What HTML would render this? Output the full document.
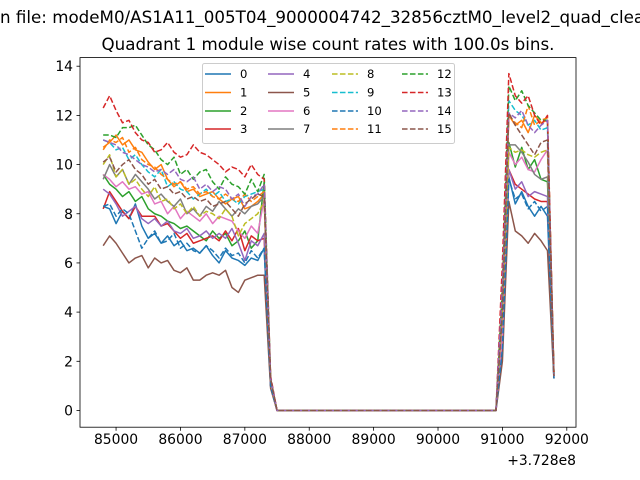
<!DOCTYPE html>
<html><head><meta charset="utf-8"><style>
html,body{margin:0;padding:0;background:#fff;}
svg{display:block;font-family:"DejaVu Sans","Liberation Sans",sans-serif;}
</style></head><body>
<svg id="chart" width="640" height="480" viewBox="0 0 640 480">
<rect x="0" y="0" width="640" height="480" fill="#fff"/>
<text x="0" y="23" font-size="16.7">n file: modeM0/AS1A11_005T04_9000004742_32856cztM0_level2_quad_clean</text>
<text x="328" y="50" font-size="16.7" text-anchor="middle">Quadrant 1 module wise count rates with 100.0s bins.</text>
<g id="plot"></g>
</svg>
<script>
const binStart = 84800;
const binSize = 100;
const gapZeros = [0,0,0,0,0,0,0,0,0,0,0,0,0,0,0,0,0,0,0,0,0,0,0,0,0,0,0,0,0,0,0,0,0,0,0];
const s0pre=[8.3,8.2,7.6,8.1,7.8,8.4,7.5,7.0,7.2,6.8,7.1,6.7,6.9,6.5,6.6,6.4,6.7,6.3,6.0,6.5,6.2,6.1,5.9,6.2,6.1,6.6,1.0];
const s0post=[2.5,9.5,8.4,8.9,8.3,7.9,8.3,7.9,1.3];
const s1pre=[10.7,10.9,11.2,10.8,11.0,10.6,10.5,10.1,9.8,10.0,9.4,9.1,9.3,8.9,9.0,8.7,8.8,8.9,8.6,8.4,8.6,8.7,8.2,8.3,8.5,8.8,1.2];
const s1post=[3.5,12.0,11.6,11.8,11.3,12.0,11.7,11.8,1.5];
const s2pre=[9.6,9.2,9.0,8.7,8.9,8.5,8.7,8.2,8.0,7.9,7.7,7.6,7.4,7.5,7.3,7.1,6.9,7.3,7.0,7.2,6.7,6.9,7.3,6.6,6.9,9.3,1.1];
const s2post=[3,10.9,9.9,10.7,9.8,10.2,9.4,9.3,1.4];
const s3pre=[8.2,8.9,8.5,8.1,7.8,8.3,7.9,7.9,7.9,7.5,7.6,7.3,7.0,7.2,6.8,6.9,7.0,7.1,6.9,7.3,6.9,7.4,6.5,7.1,6.9,7.0,1.0];
const s3post=[4,9.8,9.2,9.0,8.8,8.6,8.5,8.5,1.4];
const s4pre=[9.0,8.8,8.4,7.9,8.1,8.3,7.8,7.6,7.8,7.5,7.7,7.3,7.2,7.4,7.0,7.1,7.3,7.0,7.2,7.0,7.4,6.8,6.1,6.9,6.7,7.2,1.0];
const s4post=[4,9.8,9.0,9.3,8.7,8.9,8.8,8.7,1.4];
const s5pre=[6.7,7.1,6.8,6.4,6.0,6.2,6.3,5.8,6.2,6.0,6.1,5.7,5.6,5.8,5.3,5.3,5.5,5.6,5.5,5.7,5.0,4.8,5.3,5.4,5.5,5.5,0.9];
const s5post=[2,8.5,7.3,7.1,6.8,7.2,6.9,6.5,1.3];
const s6pre=[9.6,9.4,9.1,9.3,9.0,9.1,8.8,8.9,8.4,8.5,8.0,8.3,7.8,8.1,7.9,7.7,8.0,7.6,7.9,7.8,7.7,7.3,7.0,7.5,7.2,8.6,1.1];
const s6post=[3,10.5,10.0,10.3,9.8,9.7,10.2,10.6,1.5];
const s7pre=[9.4,10.0,9.5,9.8,9.2,9.6,9.3,9.0,8.6,8.8,8.5,8.3,8.6,8.0,8.2,7.9,8.3,8.1,8.5,8.2,7.9,8.2,8.0,8.3,8.4,8.7,1.2];
const s7post=[4,10.8,10.8,10.5,10.1,9.6,9.4,9.5,1.5];
const s8pre=[10.0,10.4,9.5,9.8,9.2,9.4,9.0,8.7,9.1,8.5,8.6,8.2,8.4,8.0,8.3,7.9,8.1,8.0,7.8,8.2,7.9,7.1,7.6,7.8,8.0,8.5,1.2];
const s8post=[4,10.7,10.5,10.6,10.4,10.3,10.5,10.6,1.5];
const s9pre=[11.0,10.9,10.6,10.7,10.2,10.4,10.0,9.7,9.5,9.8,9.1,9.3,9.0,8.9,8.6,8.8,9.0,8.7,8.9,8.5,8.6,8.4,8.7,8.8,8.9,9.0,1.3];
const s9post=[5,12.6,12.2,12.0,11.6,11.8,11.4,11.5,1.5];
const s10pre=[8.3,8.4,7.9,8.2,8.0,7.3,6.6,7.0,7.3,6.8,6.9,7.2,6.6,6.8,6.5,6.4,6.7,6.5,6.2,6.6,6.3,6.4,6.0,6.5,6.2,6.6,1.0];
const s10post=[2.5,9.4,8.6,8.8,8.2,8.5,8.1,8.3,1.3];
const s11pre=[10.6,11.0,10.9,11.1,10.5,10.7,10.2,10.0,9.9,9.6,9.4,9.2,9.3,9.0,9.1,8.8,8.9,8.7,8.6,8.8,8.6,8.5,8.8,8.5,8.7,8.9,1.3];
const s11post=[5,12.0,11.7,11.5,12.4,11.6,11.8,11.9,1.5];
const s12pre=[11.2,11.2,11.1,11.5,11.5,11.6,11.2,10.8,10.6,10.2,10.0,10.3,9.6,9.8,9.4,9.7,9.8,9.3,9.0,9.5,9.2,9.1,8.8,9.4,8.9,9.6,1.3];
const s12post=[5,13.2,12.6,13.0,12.4,12.1,11.8,11.8,1.5];
const s13pre=[12.3,12.8,12.2,11.7,11.8,11.3,11.0,10.9,10.5,10.6,10.9,10.5,10.3,10.4,10.8,10.5,10.4,10.2,10.0,9.7,9.9,9.8,9.5,10.0,9.6,9.4,1.4];
const s13post=[6,13.7,12.8,12.5,12.8,12.0,11.6,12.0,1.5];
const s14pre=[11.0,10.9,10.8,10.5,10.4,10.2,10.0,9.9,9.7,9.8,9.6,9.8,9.4,9.3,9.5,9.0,9.2,8.9,9.1,9.0,8.6,8.8,8.3,8.7,8.8,9.2,1.3];
const s14post=[5,12.1,11.9,12.2,11.6,11.3,11.6,11.8,1.4];
const s15pre=[10.1,10.3,9.7,10.0,10.2,9.8,9.6,9.2,9.4,9.0,9.1,8.8,8.9,8.6,8.7,8.5,8.6,8.3,8.4,8.5,8.2,7.9,8.4,8.6,8.8,8.7,1.3];
const s15post=[4,12.1,11.6,11.2,10.8,10.4,10.9,11.0,1.4];
const seriesLabels=["0","1","2","3","4","5","6","7","8","9","10","11","12","13","14","15"];
const xTicks=[85000,86000,87000,88000,89000,90000,91000,92000];
const yTicks=[0,2,4,6,8,10,12,14];

const pres=[s0pre,s1pre,s2pre,s3pre,s4pre,s5pre,s6pre,s7pre,s8pre,s9pre,s10pre,s11pre,s12pre,s13pre,s14pre,s15pre];
const posts=[s0post,s1post,s2post,s3post,s4post,s5post,s6post,s7post,s8post,s9post,s10post,s11post,s12post,s13post,s14post,s15post];
const colors=["#1f77b4","#ff7f0e","#2ca02c","#d62728","#9467bd","#8c564b","#e377c2","#7f7f7f","#bcbd22","#17becf"];
const AX={l:80,r:576,t:57.6,b:427.2};
const X0=84440,X1=92143,Y0=-0.68,Y1=14.35;
function xs(v){return AX.l+(v-X0)/(X1-X0)*(AX.r-AX.l);}
function ys(v){return AX.b-(v-Y0)/(Y1-Y0)*(AX.b-AX.t);}
const NS="http://www.w3.org/2000/svg";
const g=document.getElementById('plot');
function mk(tag,attrs,parent){const e=document.createElementNS(NS,tag);for(const k in attrs)e.setAttribute(k,attrs[k]);(parent||g).appendChild(e);return e;}

for(let s=0;s<16;s++){
  const vals=pres[s].concat(gapZeros,posts[s]);
  const pts=vals.map((v,i)=>xs(binStart+i*binSize).toFixed(2)+','+ys(v).toFixed(2)).join(' ');
  const pl=mk('polyline',{points:pts,fill:'none',stroke:colors[s%10],'stroke-width':1.5,'stroke-linejoin':'round'});
  if(s>=8)pl.setAttribute('stroke-dasharray','5.55,2.4');
  
  
}
const fr=mk('rect',{x:AX.l,y:AX.t,width:AX.r-AX.l,height:AX.b-AX.t,fill:'none',stroke:'#000','stroke-width':0.8});


xTicks.forEach(t=>{
  const x=xs(t);
  const tk=mk('line',{x1:x,x2:x,y1:AX.b,y2:AX.b+3.5,stroke:'#000','stroke-width':0.8});
  
  
  const tx=mk('text',{x:x,y:AX.b+17,'font-size':13.9,'text-anchor':'middle'});
  tx.textContent=t;
  
  
});
const off=mk('text',{x:AX.r,y:AX.b+38,'font-size':13.9,'text-anchor':'end'});
off.textContent='+3.728e8';


yTicks.forEach(t=>{
  const y=ys(t);
  const tk=mk('line',{x1:AX.l-3.5,x2:AX.l,y1:y,y2:y,stroke:'#000','stroke-width':0.8});
  
  
  const tx=mk('text',{x:AX.l-7,y:y+5,'font-size':13.9,'text-anchor':'end'});
  tx.textContent=t;
  
  
});
const lg=mk('g',{});


mk('rect',{x:202.5,y:63.5,width:252,height:80,rx:2,fill:'#fff','fill-opacity':0.8,stroke:'#ccc','stroke-width':1},lg);
const colX=[205,268,332,402],rowY=[74,92.5,111,129];
for(let s=0;s<16;s++){
  const cx=colX[Math.floor(s/4)],cy=rowY[s%4];
  const ln=mk('line',{x1:cx,x2:cx+26,y1:cy,y2:cy,stroke:colors[s%10],'stroke-width':1.5},lg);
  if(s>=8)ln.setAttribute('stroke-dasharray','5.55,2.4');
  
  
  const tx=mk('text',{x:cx+35,y:cy+4.2,'font-size':11.6},lg);
  tx.textContent=seriesLabels[s];
  
  
}
</script>
</body></html>
